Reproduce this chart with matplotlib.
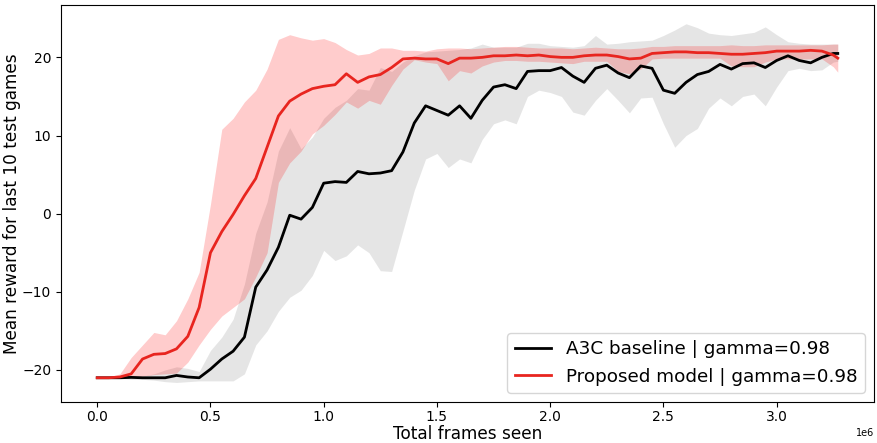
import numpy as np
import matplotlib
matplotlib.use("Agg")
import matplotlib.pyplot as plt

# frames seen (millions)
frames_m = [0.00, 0.05, 0.10, 0.15, 0.20, 0.25, 0.30, 0.35, 0.40, 0.45,
            0.50, 0.55, 0.60, 0.65, 0.70, 0.75, 0.80, 0.85, 0.90, 0.95,
            1.00, 1.05, 1.10, 1.15, 1.20, 1.25, 1.30, 1.35, 1.40, 1.45,
            1.50, 1.55, 1.60, 1.65, 1.70, 1.75, 1.80, 1.85, 1.90, 1.95,
            2.00, 2.05, 2.10, 2.15, 2.20, 2.25, 2.30, 2.35, 2.40, 2.45,
            2.50, 2.55, 2.60, 2.65, 2.70, 2.75, 2.80, 2.85, 2.90, 2.95,
            3.00, 3.05, 3.10, 3.15, 3.20, 3.25, 3.27]

# A3C baseline
a3c_mean = [-21.0, -21.0, -21.0, -20.95, -21.0, -21.0, -21.0, -20.7, -20.9, -21.0,
            -19.9, -18.6, -17.6, -15.8, -9.4, -7.2, -4.3, -0.2, -0.7, 0.8,
            3.9, 4.1, 4.0, 5.4, 5.1, 5.2, 5.5, 7.9, 11.6, 13.8,
            13.2, 12.6, 13.8, 12.2, 14.5, 16.2, 16.5, 16.0, 18.2, 18.3,
            18.3, 18.7, 17.6, 16.8, 18.6, 19.0, 18.0, 17.4, 18.9, 18.6,
            15.8, 15.4, 16.8, 17.8, 18.2, 19.1, 18.5, 19.2, 19.3, 18.7,
            19.6, 20.2, 19.6, 19.3, 20.0, 20.5, 20.5]
a3c_hi = [-21.0, -21.0, -20.9, -20.9, -20.8, -20.5, -20.0, -19.6, -19.8, -20.2,
          -17.5, -15.8, -13.5, -9.0, -2.5, 1.5, 8.0, 11.0, 8.3, 9.8,
          12.2, 13.6, 14.5, 16.0, 15.8, 18.7, 18.2, 19.4, 20.2, 20.7,
          20.8, 20.9, 21.0, 21.2, 21.7, 21.3, 21.3, 21.3, 21.8, 21.8,
          21.5, 21.4, 21.3, 21.5, 22.8, 21.7, 21.8, 22.0, 22.1, 22.2,
          22.8, 23.5, 24.3, 23.8, 23.1, 22.9, 22.8, 23.0, 23.2, 23.9,
          22.9, 22.0, 21.8, 21.7, 21.7, 21.7, 21.7]
a3c_lo = [-21.0, -21.0, -21.1, -21.2, -21.2, -21.3, -21.5, -21.6, -21.5, -21.4,
          -21.4, -21.4, -21.4, -20.5, -16.8, -15.0, -12.5, -10.7, -9.8, -7.9,
          -4.7, -6.0, -5.4, -4.0, -5.0, -7.3, -7.4, -2.2, 3.0, 7.0,
          7.7, 5.9, 7.0, 6.5, 9.5, 11.5, 12.0, 11.5, 15.0, 15.8,
          15.5, 15.0, 13.0, 12.6, 14.5, 16.0, 14.5, 12.9, 14.8, 14.9,
          11.5, 8.5, 10.0, 10.9, 13.5, 14.8, 13.8, 15.0, 15.3, 13.8,
          16.2, 18.3, 18.6, 18.3, 18.4, 19.4, 19.5]

# proposed model
prop_mean = [-21.0, -21.0, -20.9, -20.5, -18.6, -18.0, -17.9, -17.3, -15.7, -12.0,
             -5.0, -2.3, -0.1, 2.3, 4.5, 8.5, 12.5, 14.4, 15.3, 16.0,
             16.3, 16.5, 17.9, 16.8, 17.5, 17.8, 18.7, 19.8, 19.9, 19.8,
             19.8, 19.2, 19.9, 19.9, 20.0, 20.2, 20.2, 20.3, 20.2, 20.3,
             20.1, 20.0, 20.0, 20.2, 20.3, 20.3, 20.1, 19.8, 19.9, 20.5,
             20.6, 20.7, 20.7, 20.6, 20.6, 20.5, 20.4, 20.4, 20.5, 20.6,
             20.8, 20.8, 20.8, 20.9, 20.8, 20.3, 19.9]
prop_hi = [-21.0, -20.9, -20.5, -18.4, -16.8, -15.2, -15.5, -13.7, -10.9, -7.5,
           1.2, 10.8, 12.2, 14.3, 15.8, 18.5, 22.3, 22.9, 22.5, 22.2,
           22.4, 21.9, 21.0, 20.3, 20.5, 21.2, 21.2, 20.9, 20.9, 20.8,
           21.1, 21.2, 21.2, 21.1, 21.2, 21.3, 21.4, 21.4, 21.3, 21.2,
           21.2, 21.2, 21.1, 21.2, 21.3, 21.2, 21.1, 21.1, 21.2, 21.4,
           21.4, 21.5, 21.5, 21.5, 21.5, 21.5, 21.6, 21.5, 21.5, 21.6,
           21.6, 21.6, 21.6, 21.6, 21.6, 21.7, 21.7]
prop_lo = [-21.0, -21.0, -21.0, -21.0, -20.8, -20.6, -20.5, -20.4, -19.0, -16.8,
           -14.8, -13.1, -12.0, -10.9, -8.1, -5.0, 4.0, 6.5, 8.0, 10.2,
           11.3, 12.7, 14.3, 13.5, 14.5, 14.0, 16.4, 18.5, 19.7, 19.4,
           19.2, 17.0, 18.3, 18.0, 18.9, 19.4, 19.6, 19.6, 19.5, 19.5,
           19.4, 19.3, 19.2, 19.5, 19.5, 19.5, 18.2, 17.9, 18.5, 19.8,
           19.9, 19.9, 19.9, 19.9, 19.9, 19.9, 18.9, 18.8, 18.8, 19.4,
           19.8, 19.8, 19.8, 19.8, 19.8, 18.8, 18.1]

x = np.array(frames_m) * 1e6

fig = plt.figure(figsize=(8.78, 4.43), dpi=100)
ax = fig.add_axes([61 / 878, 41 / 443, 813 / 878, 397 / 443])

ax.fill_between(x, a3c_lo, a3c_hi, color="gray", alpha=0.2, linewidth=0)
ax.fill_between(x, prop_lo, prop_hi, color="red", alpha=0.2, linewidth=0)
ax.plot(x, a3c_mean, color="black", lw=2, label="A3C baseline | gamma=0.98")
ax.plot(x, prop_mean, color="#e8251f", lw=2, label="Proposed model | gamma=0.98")

ax.set_xlim(-0.16e6, 3.43e6)
ax.set_ylim(-24.1, 26.7)
ax.set_yticks([-20, -10, 0, 10, 20])
ax.tick_params(labelsize=10)
ax.tick_params(axis="x", pad=2.5)
ax.xaxis.get_offset_text().set_fontsize(7)

ax.set_xlabel("Total frames seen", fontsize=12.2)
ax.set_ylabel("Mean reward for last 10 test games", fontsize=12.2)
ax.xaxis.set_label_coords(0.5, -0.057)
ax.yaxis.set_label_coords(-0.049, 0.5)
ax.legend(loc="lower right", fontsize=13.2)

fig.savefig("out.png", dpi=100)
